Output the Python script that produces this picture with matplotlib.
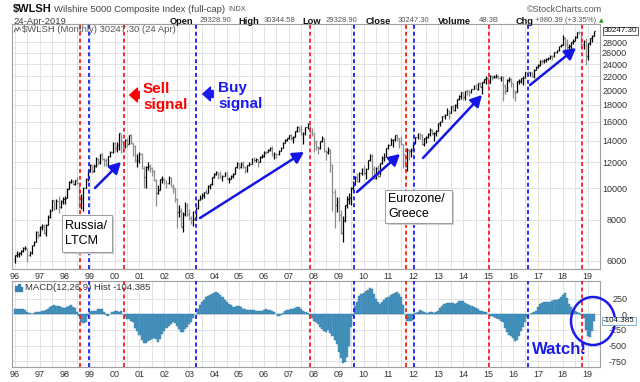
import numpy as np
import matplotlib
matplotlib.use("Agg")
import matplotlib.pyplot as plt
from matplotlib.collections import LineCollection
from matplotlib.patches import Ellipse, Rectangle, FancyArrowPatch
from matplotlib.lines import Line2D
from matplotlib.ticker import FixedLocator, NullLocator, FuncFormatter

plt.rcParams['font.family'] = ['Liberation Sans', 'DejaVu Sans']

# ---------------- data (monthly, Jan 1996 .. Apr 2019) ----------------
first_year = 1996
prev_close = 6057.2

closes = [
    6233, 6276, 6326, 6411, 6557, 6559, 6240, 6357, 6701, 6862, 7358, 7200,
    7626, 7655, 7314, 7725, 8186, 8533, 9180, 8653, 9141, 8780, 9153, 9297,
    9362, 9969, 10467, 10562, 10308, 10601, 10366, 8759, 9306, 10053, 10682, 11321,
    11773, 11331, 11706, 12284, 12042, 12698, 12291, 12174, 11801, 12539, 12917, 13811,
    13247, 13528, 14746, 13943, 13496, 14037, 13664, 14570, 13719, 13436, 12098, 12173,
    12772, 11531, 10791, 11620, 11742, 11510, 11325, 10599, 9681, 9909, 10654, 10712,
    10567, 10348, 10785, 10123, 10010, 9285, 8478, 8538, 7623, 8326, 8876, 8341,
    8129, 7991, 8058, 8729, 9231, 9355, 9556, 9758, 9641, 10192, 10286, 10797,
    11062, 11198, 11037, 10763, 10927, 11180, 10709, 10711, 10901, 11053, 11597, 11974,
    11636, 11892, 11629, 11337, 11772, 11854, 12342, 12179, 12264, 12010, 12495, 12520,
    12954, 12935, 13143, 13263, 12764, 12765, 12741, 13038, 13332, 13807, 14076, 14254,
    14526, 14237, 14379, 14942, 15459, 15184, 14625, 14814, 15390, 15680, 14915, 14816,
    13854, 13373, 13253, 13925, 14214, 12992, 12902, 13085, 11897, 9736, 8918, 9087,
    8259, 7314, 7979, 8859, 9302, 9331, 10053, 10410, 10835, 10548, 11175, 11497,
    11115, 11465, 12221, 12520, 11461, 10771, 11512, 10913, 11960, 12424, 12455, 13293,
    13569, 14069, 14160, 14563, 14286, 13999, 13634, 12737, 11710, 13097, 12993, 13117,
    13780, 14340, 14761, 14608, 13667, 14235, 14345, 14699, 15098, 14757, 14799, 14989,
    15805, 15980, 16602, 16806, 17286, 16994, 17902, 17309, 17959, 18707, 19178, 19704,
    18985, 19859, 19847, 19781, 20159, 20680, 20176, 20995, 20472, 21089, 21606, 21701,
    20987, 22139, 21878, 21898, 22128, 21704, 21880, 20550, 19930, 21521, 21595, 21053,
    19790, 19747, 21256, 21376, 21766, 21786, 22649, 22643, 22658, 22069, 23088, 23508,
    23814, 24582, 24572, 24748, 24890, 25082, 25494, 25409, 26075, 26525, 27270, 27538,
    28944, 27735, 27148, 27222, 27999, 28217, 29149, 30118, 30014, 27660, 28209, 25394,
    27852, 28764, 29267, 30247.30,
]
highs = [
    6240, 6420, 6400, 6470, 6600, 6640, 6580, 6440, 6720, 6900, 7380, 7420,
    7680, 7800, 7780, 7780, 8260, 8620, 9220, 9200, 9300, 9500, 9220, 9400,
    9450, 9990, 10500, 10700, 10600, 10620, 10800, 10400, 9600, 10100, 10760, 11400,
    11900, 11800, 11850, 12500, 12400, 12720, 12850, 12400, 12380, 12560, 13000, 13830,
    13900, 13900, 14750, 14700, 14000, 14150, 14300, 14600, 14650, 13800, 13600, 12700,
    12900, 12800, 11700, 11700, 12000, 11850, 11600, 11400, 10650, 10200, 10700, 10900,
    10750, 10600, 10900, 10800, 10300, 10050, 9350, 8900, 8700, 8450, 9100, 9000,
    8650, 8200, 8500, 8750, 9260, 9550, 9650, 9770, 9950, 10220, 10320, 10800,
    11150, 11330, 11250, 11280, 10980, 11220, 11200, 10800, 11000, 11120, 11620, 12000,
    11980, 12050, 12100, 11700, 11800, 12000, 12400, 12450, 12350, 12300, 12530, 12700,
    13000, 13050, 13200, 13400, 13450, 12950, 12850, 13080, 13380, 13850, 14200, 14300,
    14600, 14700, 14450, 15000, 15500, 15550, 15650, 14900, 15420, 15800, 15600, 15300,
    14800, 14100, 13500, 14000, 14450, 14250, 13100, 13350, 13200, 11900, 9950, 9400,
    9400, 8600, 8250, 8900, 9450, 9650, 10080, 10550, 10900, 11150, 11200, 11550,
    11800, 11500, 12240, 12720, 12700, 11700, 11600, 11750, 11980, 12520, 12800, 13300,
    13650, 14250, 14200, 14600, 14700, 14300, 14500, 13700, 12650, 13300, 13150, 13250,
    13800, 14400, 14800, 14800, 14650, 14300, 14450, 14750, 15250, 15150, 14850, 15050,
    15820, 16100, 16620, 16850, 17650, 17350, 17920, 17950, 18150, 18720, 19250, 19720,
    19750, 19920, 20100, 19950, 20200, 20700, 20850, 21000, 21100, 21150, 21650, 22000,
    21900, 22200, 22300, 22300, 22400, 22300, 22150, 22000, 20800, 21650, 21850, 21800,
    21050, 19900, 21300, 21650, 21800, 22100, 22700, 22800, 22780, 22700, 23200, 23650,
    23950, 24650, 24900, 24850, 25000, 25250, 25550, 25550, 26100, 26600, 27300, 27650,
    29500, 29000, 28650, 27700, 28050, 28600, 29200, 30150, 30400, 30100, 28500, 28900,
    27950, 28950, 29400, 30344.58,
]
lows = [
    5920, 6180, 6150, 6230, 6370, 6470, 5950, 6200, 6290, 6660, 6840, 7030,
    7150, 7450, 7260, 7150, 7700, 8120, 8500, 8600, 8640, 8400, 8700, 8950,
    8950, 9350, 9950, 10350, 10250, 10200, 10300, 8700, 8650, 8500, 10000, 10500,
    11250, 11150, 11200, 11650, 11800, 11900, 12200, 11700, 11700, 11650, 12450, 12850,
    12950, 12900, 13100, 12800, 12900, 13300, 13400, 13650, 13650, 12600, 12000, 11600,
    11950, 11450, 10000, 10000, 11400, 11200, 10900, 10550, 8800, 9600, 9850, 10350,
    10300, 10050, 10330, 10080, 9650, 9100, 7550, 8150, 7600, 7340, 8250, 8250,
    8000, 7750, 7650, 8000, 8650, 9180, 9300, 9350, 9600, 9640, 9950, 10250,
    10780, 11000, 10650, 10730, 10550, 10900, 10600, 10400, 10680, 10750, 11050, 11570,
    11450, 11550, 11550, 11150, 11250, 11700, 11850, 12050, 12000, 11650, 12000, 12400,
    12500, 12750, 12880, 13000, 12600, 12300, 12400, 12650, 13000, 13300, 13750, 14000,
    14200, 14050, 13800, 14350, 14920, 14850, 14550, 13700, 14600, 15200, 14300, 14500,
    12900, 13100, 12700, 13200, 13850, 12950, 12200, 12750, 11200, 8550, 7550, 8450,
    7950, 7250, 6860, 7900, 8700, 8980, 8900, 9900, 10200, 10450, 10450, 11000,
    11000, 10700, 11450, 12100, 10650, 10700, 10650, 10800, 10950, 11900, 12150, 12450,
    13180, 13550, 13400, 14000, 13950, 13300, 13550, 11500, 11600, 11300, 12250, 12500,
    13120, 13700, 14200, 14200, 13600, 13450, 13800, 14250, 14500, 14600, 14000, 14500,
    15000, 15500, 15950, 16250, 16800, 16350, 17000, 17200, 17300, 17600, 18650, 18800,
    18700, 18650, 19350, 19200, 19600, 20150, 20150, 19950, 20400, 19450, 21000, 20900,
    20600, 20950, 21400, 21700, 21700, 21600, 21300, 18500, 19400, 19800, 21150, 20500,
    18900, 18550, 19700, 20850, 20950, 20650, 21700, 22450, 22050, 21900, 21700, 23050,
    23400, 23750, 24050, 24200, 24350, 24750, 24950, 24700, 25300, 26050, 26350, 27150,
    27500, 26300, 26300, 26500, 26800, 27600, 28200, 28900, 29600, 26900, 26800, 23800,
    24800, 27500, 28000, 29328.90,
]
macd_hist = [
    80, 82, 80, 78, 80, 70, 40, 15, 10, 20, 30, 35,
    42, 50, 60, 70, 90, 115, 130, 140, 135, 125, 110, 100,
    95, 110, 135, 143, 120, 95, 40, -20, -125, -135, -120, -30,
    30, 45, 45, 60, 80, 85, 80, 40, -10, -35, 5, 35,
    45, 45, 40, 60, 10, -50, -70, -80, -110, -130, -220, -260,
    -330, -410, -450, -460, -430, -410, -400, -380, -400, -435, -400, -320,
    -270, -220, -190, -150, -120, -140, -180, -230, -285, -280, -240, -200,
    -150, -115, -60, 10, 80, 150, 200, 235, 270, 290, 310, 320,
    340, 350, 345, 310, 270, 235, 200, 170, 145, 110, 110, 130,
    130, 110, 85, 80, 75, 70, 70, 65, 60, 60, 55, 55,
    75, 80, 75, 70, 55, 30, 0, -25, -15, 15, 45, 70,
    75, 80, 80, 95, 110, 120, 90, 45, 30, 25, -20, -60,
    -100, -130, -150, -200, -230, -270, -280, -250, -290, -340, -410, -470,
    -600, -690, -775, -760, -680, -500, -200, -20, 130, 200, 290, 330,
    345, 365, 380, 420, 400, 330, 250, 200, 165, 200, 230, 255,
    280, 300, 330, 345, 350, 320, 270, 140, 10, -100, -110, -110,
    -90, 20, 40, 70, 60, 30, 15, 20, 30, 30, 25, 40,
    60, 95, 130, 160, 175, 180, 185, 175, 170, 180, 210, 215,
    205, 185, 165, 150, 130, 110, 95, 80, 60, 45, 35, 30,
    5, -20, -30, -45, -60, -75, -100, -130, -220, -280, -330, -350,
    -380, -430, -410, -340, -270, -200, -117, -40, 10, 15, 30, 45,
    110, 160, 185, 200, 200, 200, 200, 210, 220, 230, 250, 280,
    310, 345, 260, 170, 120, 70, 45, 30, 20, -10, -60, -250,
    -350, -366, -270, -104.385,
]

sell_signals = [1998.61, 2000.37, 2007.85, 2011.70, 2015.04, 2018.76]
buy_signals = [1998.96, 2003.26, 2009.61, 2012.04, 2016.61]

price_ticks = [6000, 8000, 10000, 12000, 14000, 16000, 18000, 20000,
               22000, 24000, 26000, 28000]
macd_ticks = [250, 0, -250, -500, -750]
year_ticks = list(range(1996, 2020))
year_labels = ['96', '97', '98', '99', '00', '01', '02', '03', '04', '05', '06', '07',
               '08', '09', '10', '11', '12', '13', '14', '15', '16', '17', '18', '19']

# ---------------- figure ----------------
W, H = 640, 382
fig = plt.figure(figsize=(6.4, 3.82), dpi=100)
fig.patch.set_facecolor('white')


def fx(p):
    return p / W


def fy(p):
    return 1 - p / H


ax = fig.add_axes([fx(12), fy(269), fx(600) - fx(12), fy(24) - fy(269)])
axm = fig.add_axes([fx(12), fy(367), fx(600) - fx(12), fy(281) - fy(367)])

GRID = '#e2e2e2'
SPINE = '#a0a0a0'
TXT = '#333333'
RED = '#ff1a1a'
BLUE = '#1a1aff'

for a in (ax, axm):
    a.set_xlim(1995.88, 2019.494)
    a.xaxis.set_major_locator(FixedLocator(year_ticks))
    a.xaxis.set_minor_locator(FixedLocator([y + 0.5 for y in year_ticks]))
    a.set_xticklabels(year_labels)
    a.grid(True, which='both', axis='x', color=GRID, lw=0.7)
    a.grid(True, which='major', axis='y', color=GRID, lw=0.7)
    a.set_axisbelow(True)
    a.tick_params(axis='x', which='both', length=0, pad=2, labelsize=6.5, labelcolor=TXT)
    a.yaxis.tick_right()
    a.tick_params(axis='y', which='both', length=0, pad=19.5, labelsize=6.5, labelcolor=TXT)
    for s in a.spines.values():
        s.set_color(SPINE)
        s.set_linewidth(0.8)
    for xs in sell_signals:
        a.axvline(xs, color=RED, ls=(0, (2.2, 1.6)), lw=1.3, zorder=6)
    for xb in buy_signals:
        a.axvline(xb, color=BLUE, ls=(0, (2.2, 1.6)), lw=1.3, zorder=6)

# ---- price OHLC bars ----
c = np.array(closes, dtype=float)
h = np.array(highs, dtype=float)
lo = np.array(lows, dtype=float)
o = np.r_[prev_close, c[:-1]]
t = first_year + np.arange(len(c)) / 12.0
w = 0.4 / 12
segs, cols = [], []
for ti, oi, hi, li, ci in zip(t, o, h, lo, c):
    col = '#000000' if ci >= oi else '#8c8c8c'
    segs += [[(ti, li), (ti, hi)], [(ti - w, oi), (ti, oi)], [(ti, ci), (ti + w, ci)]]
    cols += [col] * 3
ax.add_collection(LineCollection(segs, colors=cols, linewidths=0.9, zorder=3))

ax.set_yscale('log')
ax.set_ylim(5660, 31855)
ax.yaxis.set_major_locator(FixedLocator(price_ticks))
ax.yaxis.set_minor_locator(NullLocator())
ax.yaxis.set_major_formatter(FuncFormatter(lambda v, p: f'{v:.0f}'))
for lab in ax.get_yticklabels():
    lab.set_ha('right')

# ---- MACD histogram ----
axm.bar(t, macd_hist, width=1 / 12, color='#4a98c4', edgecolor='#2f77a2',
        linewidth=0.3, zorder=3)
axm.set_ylim(-839, 530)
axm.yaxis.set_major_locator(FixedLocator(macd_ticks))
axm.yaxis.set_major_formatter(FuncFormatter(lambda v, p: f'{v:.0f}'))
for lab in axm.get_yticklabels():
    lab.set_ha('right')

# ---------------- header ----------------
fig.text(fx(13), fy(9), r'\$WLSH', fontsize=8, fontweight='bold', color='#111111', va='center')
fig.text(fx(54), fy(9), 'Wilshire 5000 Composite Index (full-cap)', fontsize=6.8,
         color='#444444', va='center')
fig.text(fx(228), fy(9.5), 'INDX', fontsize=5.3, color='#555555', va='center')
fig.text(fx(602), fy(9), '©StockCharts.com', fontsize=6.5, color='#555555', va='center', ha='right')

fig.text(fx(13), fy(21), '24-Apr-2019', fontsize=6.8, color='#444444', va='center')
row = [(170, 'Open', True), (200, '29328.90', False), (238, 'High', True), (264, '30344.58', False),
       (302, 'Low', True), (326, '29328.90', False), (366, 'Close', True), (398, '30247.30', False),
       (438, 'Volume', True), (479, '48.3B', False), (516, 'Chg', True), (535, '+980.39 (+3.35%)', False)]
for px, s, b in row:
    fig.text(fx(px), fy(21), s, fontsize=6.7 if b else 5.5, fontweight='bold' if b else 'normal',
             color='#111111' if b else '#555555', va='center')
fig.text(fx(599), fy(21), '▲', fontsize=4.3, color='#1f9e1f', va='center', family=['DejaVu Sans'])

# ---------------- panel labels ----------------
fig.text(fx(22), fy(30), r'\$WLSH (Monthly) 30247.30 (24 Apr)', fontsize=6.8, color='#555555',
         va='center')
fig.add_artist(Line2D([fx(14), fx(16), fx(17.5), fx(19), fx(20.5)],
                      [fy(32), fy(28), fy(31), fy(27), fy(30)], color='#555555', lw=0.6,
                      transform=fig.transFigure))
fig.text(fx(25), fy(288), 'MACD(12,26,9) Hist -104.385', fontsize=6.8, color='#333333', va='center')
for bx, bh in [(15, 5), (17.5, 7), (20, 4)]:
    fig.add_artist(Rectangle((fx(bx), fy(291)), fx(2), bh / H, color='#3a7fb0',
                             transform=fig.transFigure))

# value tags on the right
fig.text(fx(604), fy(31), '30247.30', fontsize=5.8, color='#111111', va='center',
         bbox=dict(boxstyle='square,pad=0.12', fc='white', ec='#444444', lw=0.6))
fig.text(fx(603), fy(321), '-104.385', fontsize=5.8, color='#111111', va='center',
         bbox=dict(boxstyle='square,pad=0.12', fc='white', ec='#6f9fcf', lw=0.6))

# ---------------- annotations ----------------
fig.text(fx(143), fy(97), 'Sell\nsignal', fontsize=11, fontweight='bold', color='#ff0000',
         va='center', ha='left', linespacing=1.25)
fig.text(fx(218), fy(96), 'Buy\nsignal', fontsize=11, fontweight='bold', color='#1a1aee',
         va='center', ha='left', linespacing=1.25)
fig.add_artist(FancyArrowPatch(
    (fx(142), fy(95)), (fx(127), fy(95)), transform=fig.transFigure,
    arrowstyle='simple,head_length=0.5,head_width=0.9,tail_width=0.45',
    mutation_scale=11, color='#ff0000'))
fig.add_artist(FancyArrowPatch(
    (fx(216), fy(94)), (fx(200), fy(94)), transform=fig.transFigure,
    arrowstyle='simple,head_length=0.5,head_width=0.9,tail_width=0.45',
    mutation_scale=11, color='#1a1aee'))

for (x0, y0), (x1, y1) in [((95, 188), (121, 162)), ((200, 218), (304, 152)),
                           ((357, 192), (400, 154)), ((423, 158), (482, 95)),
                           ((530, 85), (576, 48))]:
    fig.add_artist(FancyArrowPatch(
        (fx(x0), fy(y0)), (fx(x1), fy(y1)), transform=fig.transFigure,
        arrowstyle='-|>,head_length=0.55,head_width=0.3', mutation_scale=12,
        color='#1515e6', lw=1.8, shrinkA=0, shrinkB=0))

for (bx0, by0, bx1, by1), s, tx in [((62, 215, 112, 252), 'Russia/\nLTCM', 65),
                                   ((385, 190, 452, 223), 'Eurozone/\nGreece', 388)]:
    fig.add_artist(Rectangle((fx(bx0) + 1.5 / W, fy(by1) - 1.5 / H), fx(bx1) - fx(bx0),
                             (by1 - by0) / H, fc='#cfcfcf', ec='none',
                             transform=fig.transFigure, zorder=7))
    fig.add_artist(Rectangle((fx(bx0), fy(by1)), fx(bx1) - fx(bx0), (by1 - by0) / H,
                             fc='white', ec='#9a9a9a', lw=0.7,
                             transform=fig.transFigure, zorder=8))
    fig.text(fx(tx), fy((by0 + by1) / 2), s, fontsize=9, color='#000000', va='center',
             ha='left', linespacing=1.3, zorder=9)

fig.text(fx(532), fy(350), 'Watch!', fontsize=12, fontweight='bold', color='#1a1aee',
         va='center', ha='left')
fig.add_artist(Ellipse((fx(593), fy(321)), 44 / W, 48 / H, fill=False, ec='#1a1aee',
                       lw=1.8, transform=fig.transFigure))

fig.savefig('out.png', dpi=100, facecolor='white')
